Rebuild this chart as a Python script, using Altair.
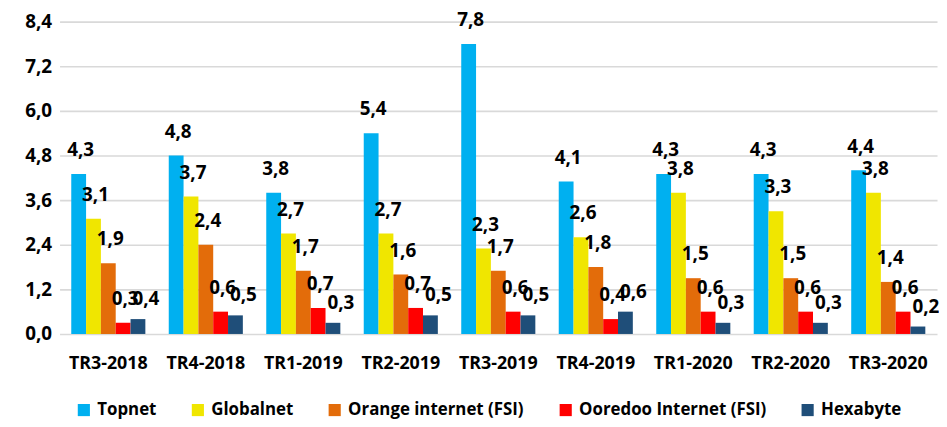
import altair as alt
import pandas as pd

categories = ["TR3-2018", "TR4-2018", "TR1-2019", "TR2-2019", "TR3-2019",
              "TR4-2019", "TR1-2020", "TR2-2020", "TR3-2020"]
series = ["Topnet", "Globalnet", "Orange internet (FSI)", "Ooredoo Internet (FSI)", "Hexabyte"]
colors = ["#00B0F0", "#F0E600", "#E36C0A", "#FF0000", "#1F4E79"]

topnet = [4.3, 4.8, 3.8, 5.4, 7.8, 4.1, 4.3, 4.3, 4.4]
globalnet = [3.1, 3.7, 2.7, 2.7, 2.3, 2.6, 3.8, 3.3, 3.8]
orange = [1.9, 2.4, 1.7, 1.6, 1.7, 1.8, 1.5, 1.5, 1.4]
ooredoo = [0.3, 0.6, 0.7, 0.7, 0.6, 0.4, 0.6, 0.6, 0.6]
hexabyte = [0.4, 0.5, 0.3, 0.5, 0.5, 0.6, 0.3, 0.3, 0.2]

y_ticks = [0.0, 1.2, 2.4, 3.6, 4.8, 6.0, 7.2, 8.4]

rows = []
for name, vals in zip(series, [topnet, globalnet, orange, ooredoo, hexabyte]):
    for c, v in zip(categories, vals):
        rows.append({"cat": c, "series": name, "value": v,
                     "label": f"{v:.1f}".replace(".", ",")})
df = pd.DataFrame(rows)

FONT = "Open Sans"

x_enc = alt.X("cat:N", sort=categories, title=None,
              scale=alt.Scale(paddingInner=0.24, paddingOuter=0.12),
              axis=alt.Axis(labelAngle=0, labelFont=FONT, labelFontSize=18,
                            labelFontWeight="bold", labelColor="#000000",
                            labelPadding=21, ticks=False, domain=False, grid=False))
xoff_enc = alt.XOffset("series:N", sort=series, scale=alt.Scale(domain=series, paddingInner=0))
y_enc = alt.Y("value:Q", title=None,
              scale=alt.Scale(domain=[0, 8.4], nice=False, zero=True),
              axis=alt.Axis(values=y_ticks, format=".1f",
                            labelExpr="replace(format(datum.value, '.1f'), '.', ',')",
                            labelFont=FONT, labelFontSize=19, labelFontWeight="bold",
                            labelColor="#000000", labelPadding=8, ticks=False,
                            domain=False, grid=True, gridColor="#d9d9d9",
                            gridWidth=1.6))

color_enc = alt.Color("series:N", sort=series,
                      scale=alt.Scale(domain=series, range=colors),
                      legend=alt.Legend(title=None, orient="none", direction="horizontal",
                                        legendX=16, legendY=383,
                                        symbolType="square", symbolSize=150,
                                        symbolStrokeWidth=0, symbolOffset=0,
                                        labelFont=FONT, labelFontSize=17,
                                        labelFontWeight="bold", labelColor="#000000",
                                        labelLimit=0,
                                        labelOffset=5, columnPadding=33))

bars = alt.Chart(df).mark_bar().encode(x=x_enc, xOffset=xoff_enc, y=y_enc, color=color_enc)

text_main = alt.Chart(df).transform_filter(
    alt.datum.series != "Hexabyte"
).mark_text(font=FONT, fontSize=19, fontWeight="bold", color="#000000",
            baseline="middle", align="center", dy=-24, dx=2).encode(
    x=alt.X("cat:N", sort=categories), xOffset=alt.XOffset("series:N", sort=series),
    y="value:Q", text="label:N")

text_hex = alt.Chart(df).transform_filter(
    alt.datum.series == "Hexabyte"
).mark_text(font=FONT, fontSize=19, fontWeight="bold", color="#000000",
            baseline="middle", align="center", dy=-20, dx=8).encode(
    x=alt.X("cat:N", sort=categories), xOffset=alt.XOffset("series:N", sort=series),
    y="value:Q", text="label:N")

chart = alt.layer(bars, text_main, text_hex).properties(
    width=885, height=315,
    autosize=alt.AutoSizeParams(type="none"),
    padding={"left": 52, "top": 12, "right": 2, "bottom": 84},
    background="#ffffff",
).configure_view(stroke=None)

chart.save("out.html", embed_options={"renderer": "svg", "actions": False})
